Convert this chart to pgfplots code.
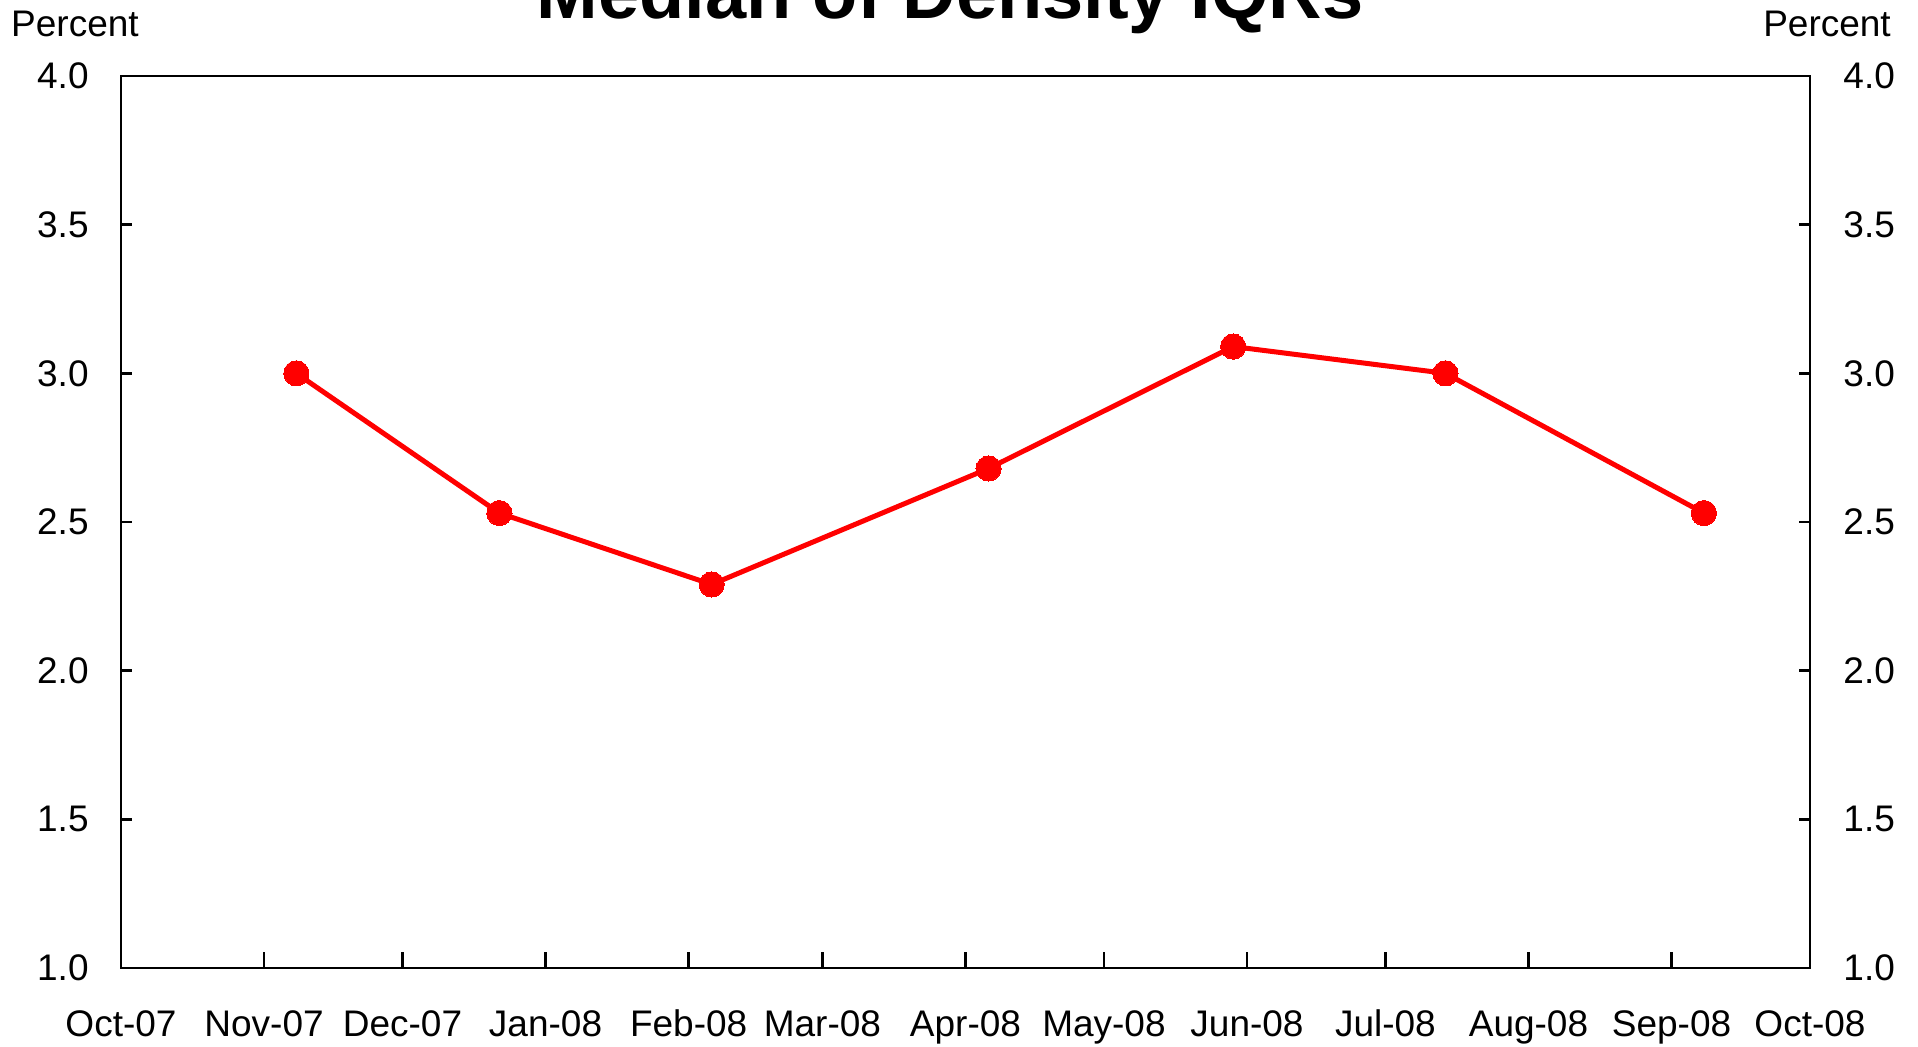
\documentclass[border=0pt]{standalone}
\usepackage{pgfplots}
\pgfplotsset{compat=1.18}
\usepackage{fontspec}
\setmainfont{Liberation Sans}
\begin{document}
\fontsize{18.5}{22}\selectfont
\begin{tikzpicture}
\pgfplotsset{
  common/.style={
    at={(0,0)}, anchor=south west,
    scale only axis, width=844.5pt, height=446pt,
    xmin=0, xmax=366, ymin=1, ymax=4,
    ytick={1,1.5,2,2.5,3,3.5,4},
    /pgf/number format/assume math mode=true,
    /pgf/number format/.cd, fixed, fixed zerofill, precision=1,
    /pgfplots/.cd,
    tick align=inside,
    axis line style={line width=1.2pt, black},
    every tick/.style={line width=1.2pt, black},
    ytick style={/pgfplots/major tick length=5.5pt},
    xtick style={/pgfplots/major tick length=8pt},
    tick label style={font=\fontsize{18.5}{22}\selectfont},
  }
}
\begin{axis}[common,
  clip mode=individual,
  xtick={0,31,61,92,123,152,183,213,244,274,305,336,366},
  xticklabels={Oct-07,Nov-07,Dec-07,Jan-08,Feb-08,Mar-08,Apr-08,May-08,Jun-08,Jul-08,Aug-08,Sep-08,Oct-08},
  xtick pos=bottom, ytick pos=left,
  xticklabel style={anchor=base, inner sep=0pt},
  xticklabel shift=34pt,
  yticklabel style={anchor=east, inner sep=0pt},
  yticklabel shift=16pt,
  title={Median of Density IQRs},
  title style={at={(0.4908,1)}, anchor=base, yshift=22.5pt, inner sep=0pt,
    font=\fontsize{37}{44}\selectfont\bfseries},
]
\addplot[red, line width=2.5pt, mark=*, mark size=6.3pt, mark options={solid, fill=red, draw=red, line width=0pt}]
  coordinates {(38,3.00) (82,2.53) (128,2.29) (188,2.68) (241,3.09) (287,3.00) (343,2.53)};
\end{axis}
\begin{axis}[common,
  hide x axis,
  axis y line*=right,
  ytick pos=right,
  yticklabel pos=right,
  yticklabel style={anchor=west, inner sep=0pt},
  yticklabel shift=16.5pt,
]
\end{axis}
\node[anchor=base, inner sep=0pt] at (-23pt,465.5pt) {Percent};
\node[anchor=base, inner sep=0pt] at (853pt,465.5pt) {Percent};
\pgfresetboundingbox
\path (-60.5pt,-39pt) rectangle (898.5pt,484pt);
\end{tikzpicture}
\end{document}
